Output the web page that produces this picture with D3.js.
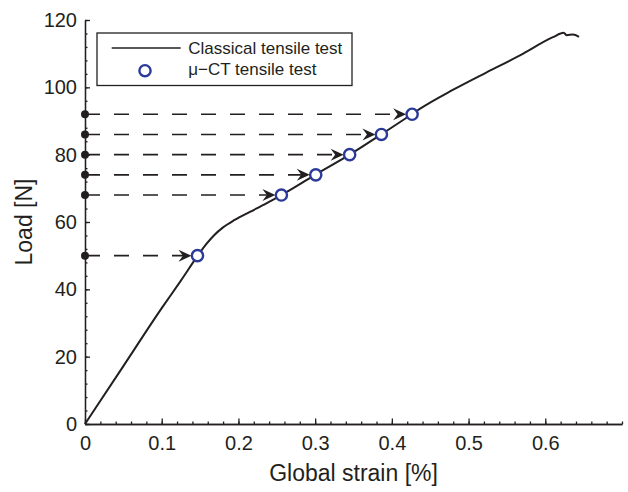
<!DOCTYPE html>
<html>
<head>
<meta charset="utf-8">
<script src="https://cdn.jsdelivr.net/npm/d3@7"></script>
<style>
  body { margin: 0; background: #fff; }
  svg text { font-family: "Liberation Sans", Arial, Helvetica, sans-serif; fill: #231f20; }
  .axis path, .axis line { stroke: #231f20; stroke-width: 1.3; }
</style>
</head>
<body>
<div id="chart"></div>
<script>
// classical tensile test curve
var strain = [0, 0.05, 0.1, 0.125, 0.147, 0.158, 0.168, 0.18, 0.195, 0.215, 0.2365, 0.256,
  0.3, 0.345, 0.386, 0.426, 0.4364, 0.48, 0.523, 0.567, 0.61, 0.624, 0.628, 0.636, 0.644];
var load = [0, 17.2, 34.4, 42.6, 50, 53.4, 56, 58.4, 60.6, 63, 65.5, 68,
  74, 80, 86, 92, 93.6, 99.3, 104.4, 109.5, 114.9, 116.2, 115.5, 115.7, 115];

// micro-CT load steps
var strainCT = [0.1466, 0.256, 0.3008, 0.345, 0.3864, 0.4264];
var loadCT = [50, 68, 74, 80, 86, 92];

var xTicks = [0, 0.1, 0.2, 0.3, 0.4, 0.5, 0.6];
var yTicks = [0, 20, 40, 60, 80, 100, 120];

var legendLabels = ["Classical tensile test", "\u03bc\u2212CT tensile test"];

var margin = {top: 20, right: 6, bottom: 68, left: 85},
    width = 628 - margin.left - margin.right,
    height = 492 - margin.top - margin.bottom;

var ink = "#231f20", blue = "#2b3a98";

var svg = d3.select("#chart").append("svg")
    .attr("width", width + margin.left + margin.right)
    .attr("height", height + margin.top + margin.bottom);

var g = svg.append("g")
    .attr("transform", "translate(" + margin.left + "," + margin.top + ")");

var x = d3.scaleLinear().domain([0, 0.7]).range([0, width]);
var y = d3.scaleLinear().domain([0, 120]).range([height, 0]);

var curve = strain.map(function(s, i) { return [s, load[i]]; });
var ct = strainCT.map(function(s, i) { return [s, loadCT[i]]; });

var line = d3.line()
    .x(function(d) { return x(d[0]); })
    .y(function(d) { return y(d[1]); })
    .curve(d3.curveMonotoneX);

g.append("path")
    .datum(curve)
    .attr("fill", "none")
    .attr("stroke", ink)
    .attr("stroke-width", 2)
    .attr("d", line);

// dashed guides from the load axis to each CT point
g.selectAll(".guide")
    .data(ct)
  .enter().append("line")
    .attr("class", "guide")
    .attr("x1", x(0))
    .attr("x2", function(d) { return x(d[0]) - 14; })
    .attr("y1", function(d) { return y(d[1]); })
    .attr("y2", function(d) { return y(d[1]); })
    .attr("stroke", ink)
    .attr("stroke-width", 1.6)
    .attr("stroke-dasharray", "15,14");

// arrowheads, tip touching the circle
g.selectAll(".arrow")
    .data(ct)
  .enter().append("path")
    .attr("class", "arrow")
    .attr("d", "M0,0L-13,-6L-8.5,0L-13,6Z")
    .attr("fill", ink)
    .attr("transform", function(d) { return "translate(" + (x(d[0]) - 6) + "," + y(d[1]) + ")"; });

g.selectAll(".dot")
    .data(ct)
  .enter().append("circle")
    .attr("class", "dot")
    .attr("cx", x(0))
    .attr("cy", function(d) { return y(d[1]); })
    .attr("r", 4)
    .attr("fill", ink);

g.selectAll(".ct")
    .data(ct)
  .enter().append("circle")
    .attr("class", "ct")
    .attr("cx", function(d) { return x(d[0]); })
    .attr("cy", function(d) { return y(d[1]); })
    .attr("r", 5.6)
    .attr("fill", "#fff")
    .attr("stroke", blue)
    .attr("stroke-width", 2.4);

// axes: major and minor ticks, pointing inwards
var fmt = d3.format("~g");

g.append("g")
    .attr("class", "axis")
    .attr("transform", "translate(0," + height + ")")
    .call(d3.axisBottom(x).tickValues(d3.range(36).map(function(i) { return i * 0.02; }))
      .tickSize(-2.5).tickSizeOuter(0).tickFormat(""));

g.append("g")
    .attr("class", "axis")
    .attr("transform", "translate(0," + height + ")")
    .call(d3.axisBottom(x).tickValues(xTicks).tickSize(-5.5).tickSizeOuter(0)
      .tickPadding(12).tickFormat(fmt))
    .call(function(a) { a.selectAll("text").style("font-size", "20px"); });

g.append("g")
    .attr("class", "axis")
    .call(d3.axisLeft(y).tickValues(d3.range(31).map(function(i) { return i * 4; }))
      .tickSize(-2.5).tickSizeOuter(0).tickFormat(""));

g.append("g")
    .attr("class", "axis")
    .call(d3.axisLeft(y).tickValues(yTicks).tickSize(-5).tickSizeOuter(0)
      .tickPadding(8).tickFormat(fmt))
    .call(function(a) { a.selectAll("text").style("font-size", "20px"); });

g.selectAll(".axis text").attr("fill", ink);

svg.append("text")
    .attr("x", margin.left + width / 2)
    .attr("y", 481)
    .attr("text-anchor", "middle")
    .style("font-size", "23px")
    .text("Global strain [%]");

svg.append("text")
    .attr("transform", "translate(32," + (margin.top + height / 2) + ") rotate(-90)")
    .attr("text-anchor", "middle")
    .style("font-size", "23px")
    .text("Load [N]");

// legend
var legend = svg.append("g").attr("transform", "translate(97,33)");

legend.append("rect")
    .attr("width", 255)
    .attr("height", 52.5)
    .attr("fill", "#fff")
    .attr("stroke", ink)
    .attr("stroke-width", 1.3);

legend.append("line")
    .attr("x1", 14.7).attr("x2", 83.7)
    .attr("y1", 15).attr("y2", 15)
    .attr("stroke", ink)
    .attr("stroke-width", 1.6);

legend.append("circle")
    .attr("cx", 48).attr("cy", 37.7)
    .attr("r", 5.6)
    .attr("fill", "#fff")
    .attr("stroke", blue)
    .attr("stroke-width", 2.4);

legend.selectAll(".lt")
    .data(legendLabels)
  .enter().append("text")
    .attr("class", "lt")
    .attr("x", 91.3)
    .attr("y", function(d, i) { return 21 + i * 21.3; })
    .style("font-size", "17px")
    .text(function(d) { return d; });
</script>
</body>
</html>
